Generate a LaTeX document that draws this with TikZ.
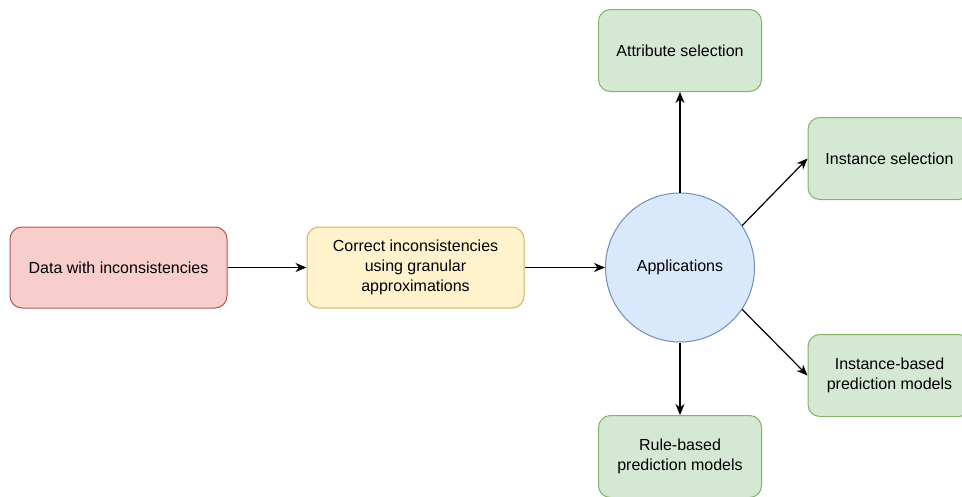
\documentclass[tikz,border=0pt]{standalone}
\usepackage{fontspec}
\setmainfont{Liberation Sans}
\usetikzlibrary{arrows.meta}
\definecolor{redfill}{HTML}{F8CECC}\definecolor{redline}{HTML}{B85450}
\definecolor{yelfill}{HTML}{FFF2CC}\definecolor{yelline}{HTML}{D6B656}
\definecolor{bluefill}{HTML}{DAE8FC}\definecolor{blueline}{HTML}{6C8EBF}
\definecolor{grnfill}{HTML}{D5E8D4}\definecolor{grnline}{HTML}{82B366}
\tikzset{
  box/.style={draw, rounded corners=12pt, minimum width=217pt, minimum height=81pt,
    inner sep=0pt, align=center, line width=1pt, font=\fontsize{16}{20}\selectfont},
  appbox/.style={box, minimum width=163pt, minimum height=82pt, fill=grnfill, draw=grnline},
  conn/.style={line width=1.2pt, -{Stealth[length=11pt,width=9pt,inset=3.5pt]}}
}
\begin{document}
\begin{tikzpicture}[x=1pt,y=-1pt]
\clip (0,0) rectangle (962,496);
\fill[white] (0,0) rectangle (962,496);
\node[box, fill=redfill, draw=redline] (data) at (118.5,267.5) {Data with inconsistencies};
\node[box, fill=yelfill, draw=yelline] (corr) at (415.5,267.5) {Correct inconsistencies\\using granular\\approximations};
\node[circle, draw=blueline, fill=bluefill, line width=1pt, minimum size=149pt, inner sep=0pt,
  font=\fontsize{16}{20}\selectfont] (app) at (680,267.5) {Applications};
\node[appbox] (attr) at (680,50.5) {Attribute selection};
\node[appbox] (inst) at (889.5,158.5) {Instance selection};
\node[appbox] (ibpm) at (889.5,375.5) {Instance-based\\prediction models};
\node[appbox] (rbpm) at (680,456.5) {Rule-based\\prediction models};
\draw[conn] (data) -- (corr);
\draw[conn] (corr) -- (app);
\draw[conn] (app) -- (attr);
\draw[conn] (app) -- (rbpm);
\draw[conn] (app.34) -- (inst.west);
\draw[conn] (app.-34) -- (ibpm.west);
\end{tikzpicture}
\end{document}
